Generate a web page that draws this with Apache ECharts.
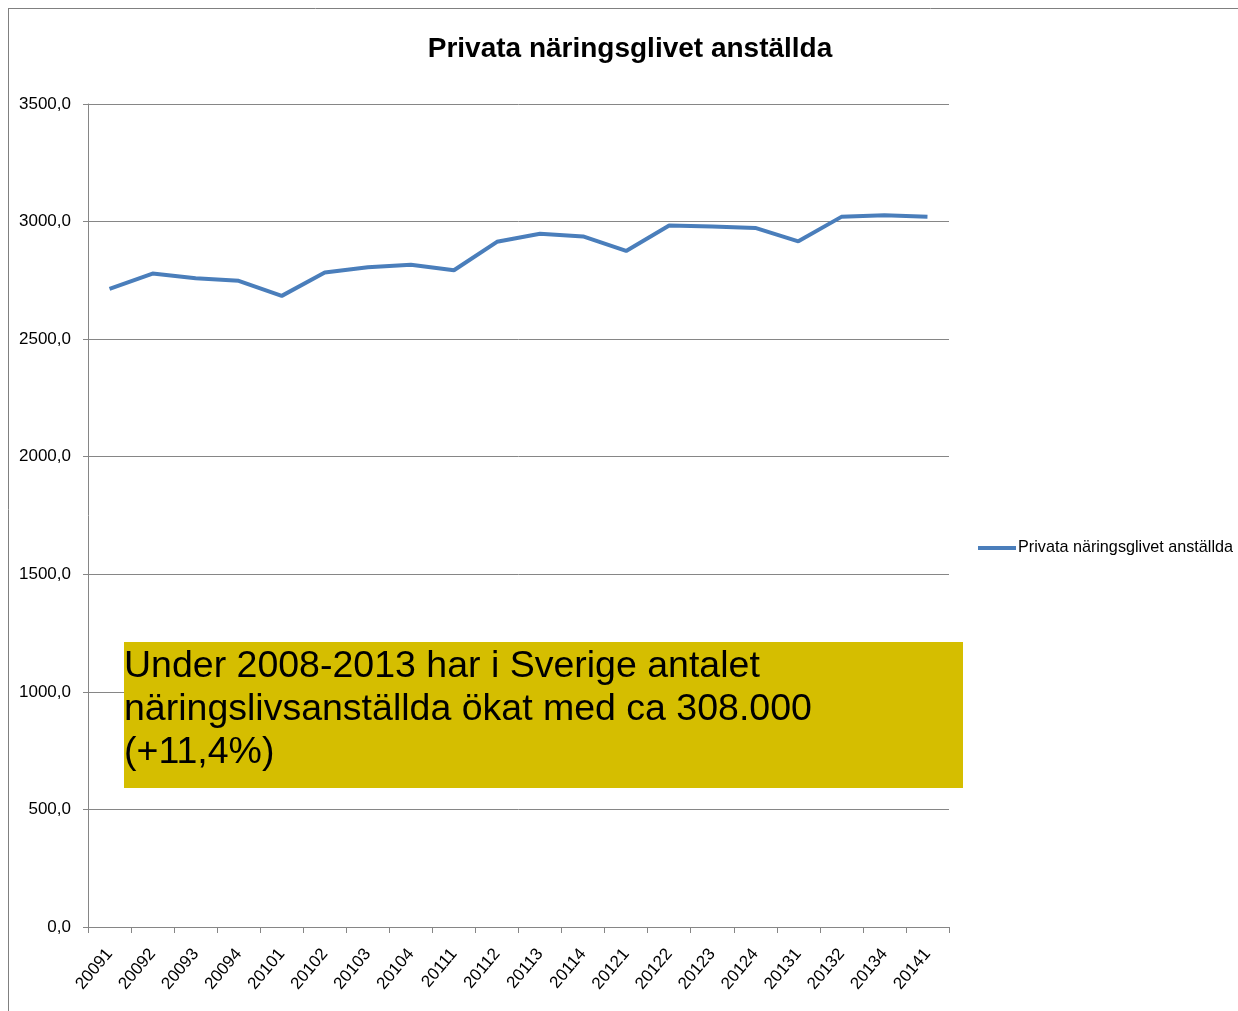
<!DOCTYPE html>
<html><head><meta charset="utf-8">
<script src="https://cdn.jsdelivr.net/npm/echarts@6/dist/echarts.min.js"></script>
<style>html,body{margin:0;padding:0;background:#fff}#c{width:1238px;height:1011px}</style>
</head><body><div id="c"></div>
<script>
const categories = ['20091','20092','20093','20094','20101','20102','20103','20104','20111','20112','20113','20114','20121','20122','20123','20124','20131','20132','20134','20141'];
const values = [2714,2779,2759,2748,2684,2783,2806,2816,2793,2914,2948,2937,2875,2983,2979,2973,2916,3020,3027,3021];
const seriesName = 'Privata näringsglivet anställda';
const titleText = 'Privata näringsglivet anställda';
const noteLines = ['Under 2008-2013 har i Sverige antalet','näringslivsanställda ökat med ca 308.000','(+11,4%)'];

const font = '"Liberation Sans", Arial, sans-serif';
const chart = echarts.init(document.getElementById('c'));
chart.setOption({
  animation: false,
  backgroundColor: '#fff',
  title: {text: titleText, left: 630, top: 35, textAlign: 'center', padding: 0,
    textStyle: {fontFamily: font, fontSize: 28, fontWeight: 'bold', color: '#000'}},
  legend: {data: [seriesName], left: 978, top: 540, padding: 0, itemWidth: 38, itemHeight: 4, itemGap: 2,
    icon: 'rect', textStyle: {fontFamily: font, fontSize: 16.2, color: '#000', padding: [0,0,0,-3]}},
  grid: {left: 88, right: 289, top: 104, bottom: 84},
  xAxis: {type: 'category', data: categories, boundaryGap: true,
    axisLine: {lineStyle: {color: '#868686'}},
    axisTick: {show: true, length: 6, lineStyle: {color: '#868686'}},
    axisLabel: {rotate: 50, fontFamily: font, fontSize: 17, color: '#000', margin: 24, interval: 0}},
  yAxis: {type: 'value', min: 0, max: 3500, interval: 500,
    axisLine: {show: true, lineStyle: {color: '#868686'}},
    axisTick: {show: true, length: 5, lineStyle: {color: '#868686'}},
    splitLine: {lineStyle: {color: '#868686'}},
    axisLabel: {fontFamily: font, fontSize: 17, color: '#000', margin: 17,
      formatter: v => v.toFixed(1).replace('.', ',')}},
  series: [{name: seriesName, type: 'line', data: values, symbol: 'none',
    lineStyle: {color: '#4a7ebb', width: 4}, itemStyle: {color: '#4a7ebb'}}],
  graphic: [
    {type: 'line', shape: {x1: 8.5, y1: 8, x2: 8.5, y2: 1011}, style: {stroke: '#808080', lineWidth: 1}},
    {type: 'line', shape: {x1: 8, y1: 8.5, x2: 1238, y2: 8.5}, style: {stroke: '#808080', lineWidth: 1}},
    {type: 'rect', shape: {x: 124, y: 642, width: 839, height: 146}, style: {fill: '#d5be00'}, z: 100},
    {type: 'text', left: 124, top: 645, z: 101,
      style: {text: noteLines.join('\n'), fill: '#000', font: '37.5px "Liberation Sans", Arial, sans-serif', lineHeight: 43}}
  ]
});
</script></body></html>
